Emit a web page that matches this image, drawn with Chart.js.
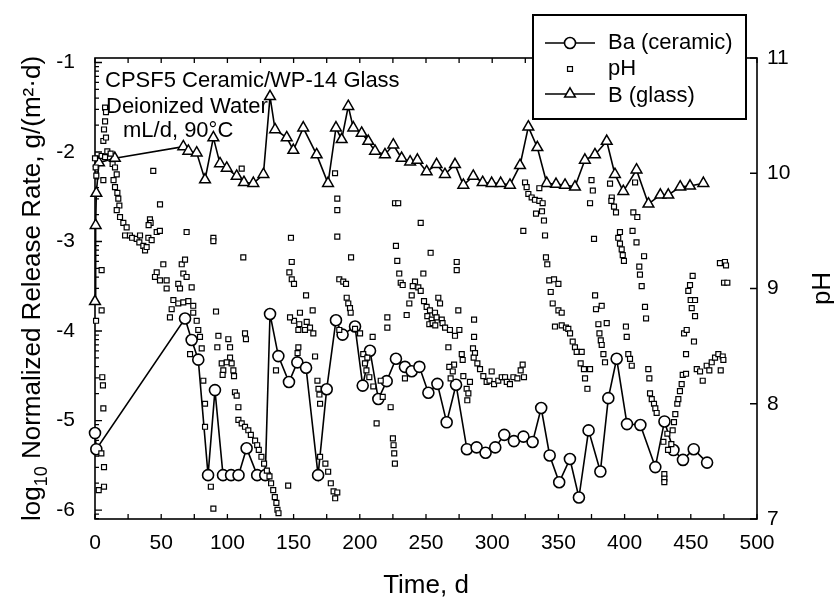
<!DOCTYPE html>
<html>
<head>
<meta charset="utf-8">
<script src="https://cdn.jsdelivr.net/npm/chart.js@4.4.1/dist/chart.umd.min.js"></script>
<style>
  html, body { margin: 0; padding: 0; background: #fff; }
  #wrap { width: 834px; height: 598px; position: relative; }
</style>
</head>
<body>
<div id="wrap"><canvas id="c" width="834" height="598"></canvas></div>
<script>
// Ba release from the ceramic (log10 g/(m2.d))
const baDays = [0, 1, 68, 73, 78, 85.4, 90.6, 96.7, 102.8, 108.4, 114.5, 122.5, 128.6, 132.2, 138.5, 146.5, 152.8, 159.4, 168.5, 175, 182, 187, 196.4, 202.2, 207.7, 214, 220.3, 227.3, 234.1, 239.2, 245, 251.8, 258.6, 265.6, 272.7, 280.9, 288.2, 295, 302.3, 309.1, 316.4, 323.6, 330.5, 337, 343.4, 350.6, 358.7, 365.5, 372.8, 381.7, 387.7, 394, 401.8, 411.9, 423.2, 430.1, 436.9, 444.1, 452.2, 462.3];
const baValues = [-5.14, -5.32, -3.86, -4.10, -4.32, -5.61, -4.66, -5.61, -5.61, -5.61, -5.31, -5.61, -5.61, -3.81, -4.28, -4.57, -4.35, -4.41, -5.61, -4.65, -3.88, -4.04, -3.95, -4.61, -4.22, -4.76, -4.56, -4.31, -4.40, -4.45, -4.40, -4.69, -4.59, -5.02, -4.60, -5.32, -5.30, -5.36, -5.30, -5.16, -5.23, -5.18, -5.24, -4.86, -5.39, -5.69, -5.43, -5.86, -5.11, -5.57, -4.75, -4.31, -5.04, -5.05, -5.52, -5.01, -5.33, -5.44, -5.32, -5.47];

// B release from the glass (log10 g/(m2.d))
const bDays = [0, 0.5, 1, 3, 15, 66.7, 70.5, 76.8, 83.1, 89.4, 94.4, 99.5, 107, 112.5, 119.6, 127.2, 132.2, 136, 144.8, 149.8, 157.3, 167.4, 176, 182, 186.3, 191.3, 195.1, 201.4, 206.4, 211.5, 219, 225.3, 231.6, 238, 243.5, 250.5, 258, 264.3, 271.9, 278.2, 285.7, 292.8, 299.6, 306.4, 313.4, 321, 327.3, 334.1, 341.2, 348.2, 355, 362.5, 370, 377.6, 386.5, 392.7, 399, 409, 418, 427, 433, 442, 449.4, 459.5];
const bValues = [-3.67, -2.82, -2.46, -2.12, -2.07, -1.94, -1.99, -2.01, -2.31, -1.84, -2.13, -2.18, -2.27, -2.34, -2.35, -2.25, -1.38, -1.75, -1.84, -1.98, -1.73, -2.03, -2.35, -1.73, -1.86, -1.49, -1.73, -1.79, -1.88, -1.99, -2.03, -1.92, -2.07, -2.11, -2.09, -2.22, -2.14, -2.25, -2.14, -2.37, -2.27, -2.34, -2.35, -2.35, -2.37, -2.15, -1.72, -1.95, -2.35, -2.36, -2.37, -2.39, -2.09, -2.03, -1.88, -2.25, -2.44, -2.20, -2.58, -2.48, -2.48, -2.39, -2.38, -2.35];

// Leachate pH readings
const phDays = [
  0, 0.5, 1, 0.8, 2.8, 4.8, 5, 5, 5, 5.5, 6, 6.3, 6.3, 6.3, 6.8, 6.8, 6.8, 7.6, 8.3, 7.6, 8.3, 9.3, 7.6, 11.8, 13.3, 15.1, 16.4, 14, 15.1, 16.9, 17.6, 18.4, 16.4, 18.9, 21.4, 23.9, 22.7, 26.4, 28, 31.5, 33.5, 34, 36.5, 37.8, 39, 40.3, 42.8, 46.6, 41.5, 42, 40.5, 49, 44, 49.1,
  51.6, 46.6, 45.3, 49.1, 54.1, 54.1, 65.5, 68, 66.7, 69.2, 62.9, 64.2, 73, 59.2, 57.9, 56.6, 62.9, 66.7, 70.5, 74.2, 74.2, 76.8, 78, 79.3, 80.6, 71.8, 81.8, 83.1, 83.1, 87.5, 89.4, 69.2, 89.4, 89.4, 91.4,
  93.2, 100.7, 92.4, 102, 113.3, 114, 102, 95.7, 99.5, 103.2, 96.9, 104.5, 96.4, 105, 105.7, 107, 108.3, 108.3, 110.8, 113.3, 115.8, 117.7, 120.9, 122.5, 123.7, 125.7, 127.7, 129.8, 131.8, 133, 134.6, 135.8, 137, 137.8, 138.6, 110.8, 112, 136.7, 145.9,
  148, 148.6, 146.8, 148.6, 150.3, 154.8, 150.3, 154.3, 159.9, 162.4, 153.6, 158.6, 164.9, 147.3, 164.4, 159.4, 153.6, 153, 166.2, 168, 168.8, 169.5, 170, 170, 174, 176.1, 178.1, 180.2, 181.4, 183, 181.3, 183, 183, 183, 184.5, 184.5,
  187.5, 189.6, 193.4, 190.1, 191.3, 192.6, 193.1, 196.4, 200.2, 202.6, 205.7, 203.9, 205, 207.2, 210.2, 215.8, 217.3, 209.7, 212.7, 220.8, 220.8, 223.3, 225, 225.5, 226, 226.5, 226.6, 229, 227.3, 228.3, 229.8, 230.9, 232.4, 234.1, 235.4, 237.4, 239.2, 241.7, 240, 244.2, 246, 246, 248, 253.5,
  248.5, 250.5, 253, 256.8, 259.3, 260.6, 251, 254.3, 258, 261.9, 252.5, 255, 257, 262.5, 264.4, 268.1, 271.9, 275.2, 273.2, 273.2, 274.4, 266.9, 277, 277.7, 271.2, 267.6, 270.2, 268.6, 278.2, 283.2, 280.7, 282, 281.2, 286.3, 286.3, 285.5, 287, 286,
  288.8, 290.8, 293.3, 295.8, 298, 299.6, 301.4, 304.6, 307.2, 309.7, 311, 313.4, 316, 319, 321.5, 323, 324, 323.5, 324.8, 326, 327.3, 329.8, 332.3, 335.6, 338.1, 333.1, 337.6, 339.1, 339.9, 335.6,
  340.6, 341.6, 343.1, 346.7, 350, 344.2, 345.7, 350, 352.5, 347.4, 352.5, 355.7, 357.5, 358.8, 360.8, 362.5, 363.8, 367.6, 366.8, 369.3, 373.9, 370.1, 371.9,
  373.9, 375, 376, 389, 390.3, 390, 392, 393.5, 406.6, 409.6, 407.9, 376.9, 396.5, 395.2, 396.5, 397.8, 398.6, 399.5, 406, 409, 414.7, 411.1, 411.6, 412.9, 415.4, 416.2, 377.7, 378.4, 382.7, 380.2, 386.5, 381, 382, 382.7, 384, 385.2, 401, 401.6, 402.8, 404.1, 405.4, 417.9, 418.7, 419.2, 420.5, 422.2, 423.2, 424.2,
  429.3, 432.3, 436.3, 437.3, 438.3, 439.8, 440.6, 441.8, 443.1, 443.9, 446.4, 446.4, 444.9, 446.9, 452.4, 450.7, 449.9, 453.2, 453.2, 448.1, 449.4, 451.4, 454.5, 457, 459, 462, 464, 465.8, 468.3, 470.8, 474.1, 472.6, 474.6, 472, 475.8, 476.6, 475.1, 477.6, 430, 430, 430, 435.3, 432.8
];
const phValues = [
  10.13, 10.05, 9.98, 8.72, 7.25, 7.57, 9.16, 8.81, 10.15, 8.23, 8.16, 7.96, 9.94, 10.28, 7.45, 7.28, 10.38, 10.57, 10.53, 10.45, 10.31, 10.19, 10.14, 10.17, 10.08, 10.05, 9.99, 9.94, 9.88, 9.83, 9.78, 9.72, 9.68, 9.62, 9.57, 9.53, 9.46, 9.46, 9.44, 9.43, 9.40, 9.46, 9.37, 9.33, 9.36, 9.44, 9.42, 9.49, 9.60, 9.57, 9.55, 9.50, 10.02, 9.73,
  9.21, 9.14, 9.10, 9.07, 9.07, 9.00, 9.21, 9.25, 9.13, 9.10, 9.04, 9.00, 9.01, 8.90, 8.82, 8.75, 8.87, 8.88, 8.89, 8.85, 8.79, 8.72, 8.64, 8.58, 8.48, 8.43, 8.20, 8.00, 7.80, 7.28, 7.09, 9.49, 9.44, 9.41, 8.80,
  8.59, 8.56, 8.49, 8.49, 8.61, 8.56, 8.40, 8.35, 8.36, 8.35, 8.29, 8.29, 8.25, 8.24, 8.10, 8.07, 7.97, 7.86, 7.83, 7.80, 7.77, 7.73, 7.68, 7.64, 7.60, 7.54, 7.48, 7.42, 7.37, 7.31, 7.25, 7.19, 7.14, 7.08, 7.05, 10.04, 9.27, 8.29, 7.29,
  9.44, 9.23, 9.14, 9.08, 9.04, 8.79, 8.72, 8.69, 8.71, 8.66, 8.64, 8.64, 8.61, 8.75, 8.81, 8.94, 8.49, 8.44, 8.41, 8.20, 8.13, 8.08, 8.00, 7.54, 7.48, 7.41, 7.31, 7.24, 7.18, 7.23, 10.00, 9.78, 9.68, 9.45, 9.08, 8.64,
  9.06, 9.04, 9.27, 8.92, 8.87, 8.83, 8.79, 8.65, 8.61, 8.43, 8.40, 8.35, 8.29, 8.23, 8.15, 8.20, 8.06, 8.58, 7.83, 8.75, 8.66, 7.97, 7.70, 7.64, 7.57, 7.48, 9.74, 9.74, 9.37, 9.24, 9.13, 9.05, 9.03, 8.22, 8.77, 8.87, 8.94, 9.06, 9.02, 9.01, 8.98, 9.57, 9.13, 9.31,
  8.89, 8.84, 8.81, 8.79, 8.92, 8.87, 8.76, 8.73, 8.75, 8.73, 8.69, 8.70, 8.68, 8.70, 8.66, 8.64, 8.59, 8.64, 9.23, 9.16, 8.81, 8.49, 8.43, 8.38, 8.34, 8.32, 8.28, 8.22, 8.24, 8.19, 8.13, 8.09, 8.03, 8.73, 8.58, 8.48, 8.44, 8.40,
  8.35, 8.30, 8.24, 8.19, 8.20, 8.28, 8.17, 8.20, 8.23, 8.23, 8.19, 8.17, 8.23, 8.22, 8.29, 8.34, 8.23, 9.50, 9.92, 9.88, 9.82, 9.79, 9.77, 9.76, 9.74, 9.65, 9.67, 9.59, 9.46, 9.87,
  9.27, 9.21, 9.07, 9.08, 9.04, 8.97, 8.87, 8.81, 8.79, 8.67, 8.68, 8.66, 8.65, 8.61, 8.54, 8.49, 8.45, 8.45, 8.35, 8.30, 8.30, 8.22, 8.13,
  9.74, 9.94, 9.85, 9.91, 9.79, 9.76, 9.71, 9.66, 9.66, 9.62, 9.92, 9.43, 9.49, 9.44, 9.39, 9.34, 9.29, 9.24, 9.50, 9.40, 9.28, 9.19, 9.12, 9.02, 8.84, 8.74, 8.94, 8.82, 8.85, 8.69, 8.70, 8.61, 8.55, 8.51, 8.43, 8.36, 8.67, 8.58, 8.43, 8.39, 8.33, 8.30, 8.22, 8.09, 8.04, 8.00, 7.96, 7.92,
  7.67, 7.74, 7.77, 7.84, 7.91, 8.00, 8.04, 8.11, 8.17, 8.25, 8.26, 8.43, 8.61, 8.64, 8.54, 8.83, 8.90, 8.90, 8.76, 8.98, 9.03, 9.11, 8.30, 8.28, 8.20, 8.33, 8.29, 8.36, 8.40, 8.43, 8.41, 8.29, 8.38, 9.22, 9.23, 9.20, 9.05, 9.05, 7.39, 7.35, 7.32, 7.65, 7.60
];

// Axis ticks
const timeTicks = [0, 50, 100, 150, 200, 250, 300, 350, 400, 450, 500];
const rateTicks = [-6, -5, -4, -3, -2, -1];
const phTicks = [7, 8, 9, 10, 11];

const FONT = '"Liberation Sans", Arial, Helvetica, sans-serif';
const INK = '#000';

const pairs = (xs, ys) => xs.map((x, i) => ({ x: x, y: ys[i] }));

// Inward tick marks, box frame and text labels
const framePlugin = {
  id: 'frame',
  beforeDatasetsDraw(chart) {
    const ctx = chart.ctx;
    const a = chart.chartArea;
    const x = chart.scales.x, y = chart.scales.y, y2 = chart.scales.y2;
    ctx.save();
    ctx.strokeStyle = INK;
    ctx.lineWidth = 1.6;
    ctx.strokeRect(a.left, a.top, a.right - a.left, a.bottom - a.top);

    ctx.lineWidth = 1.3;
    ctx.beginPath();
    for (let t = 0; t <= 500; t += 25) {
      const px = x.getPixelForValue(t);
      ctx.moveTo(px, a.bottom); ctx.lineTo(px, a.bottom - 5);
      ctx.moveTo(px, a.top); ctx.lineTo(px, a.top + 5);
    }
    rateTicks.forEach(v => {
      const py = y.getPixelForValue(v);
      ctx.moveTo(a.left, py); ctx.lineTo(a.left + 7, py);
    });
    for (let d = -7; d <= -1; d++) {
      for (let k = 2; k <= 9; k++) {
        const v = d + Math.log10(k);
        if (v < y.min || v > y.max) continue;
        const py = y.getPixelForValue(v);
        ctx.moveTo(a.left, py); ctx.lineTo(a.left + 4, py);
      }
    }
    phTicks.forEach(v => {
      const py = y2.getPixelForValue(v);
      ctx.moveTo(a.right, py); ctx.lineTo(a.right - 7, py);
    });
    ctx.stroke();

    // sample description
    ctx.fillStyle = INK;
    ctx.font = '22px ' + FONT;
    ctx.textBaseline = 'alphabetic';
    ctx.textAlign = 'left';
    ctx.fillText('CPSF5 Ceramic/WP-14 Glass', a.left + 10, 87);
    ctx.fillText('Deionized Water', a.left + 11, 113);
    ctx.fillText('mL/d, 90\u00B0C', a.left + 28, 137);
    ctx.restore();
  },
  afterDraw(chart) {
    const ctx = chart.ctx;
    const a = chart.chartArea;
    ctx.save();
    ctx.fillStyle = INK;

    // left axis title with subscript
    ctx.save();
    ctx.translate(40, (a.top + a.bottom) / 2);
    ctx.rotate(-Math.PI / 2);
    const parts = [
      { s: 'log', f: '26px ' + FONT, dy: 0 },
      { s: '10', f: '18px ' + FONT, dy: 7 },
      { s: ' Normalized Release Rate, g/(m\u00B2\u00B7d)', f: '26px ' + FONT, dy: 0 }
    ];
    let total = 0;
    parts.forEach(p => { ctx.font = p.f; p.w = ctx.measureText(p.s).width; total += p.w; });
    let cx = -total / 2;
    ctx.textBaseline = 'alphabetic';
    ctx.textAlign = 'left';
    parts.forEach(p => { ctx.font = p.f; ctx.fillText(p.s, cx, p.dy); cx += p.w; });
    ctx.restore();

    // right axis title
    ctx.save();
    ctx.translate(830, (a.top + a.bottom) / 2);
    ctx.rotate(-Math.PI / 2);
    ctx.font = '26px ' + FONT;
    ctx.textAlign = 'center';
    ctx.textBaseline = 'alphabetic';
    ctx.fillText('pH', 0, 0);
    ctx.restore();

    // bottom axis title
    ctx.font = '26px ' + FONT;
    ctx.textAlign = 'center';
    ctx.textBaseline = 'alphabetic';
    ctx.fillText('Time, d', (a.left + a.right) / 2, 593);

    // legend box
    const lx = 533, ly = 15, lw = 213, lh = 104;
    ctx.fillStyle = '#fff';
    ctx.fillRect(lx, ly, lw, lh);
    ctx.strokeStyle = INK;
    ctx.lineWidth = 2;
    ctx.strokeRect(lx, ly, lw, lh);
    const rows = [
      { label: 'Ba (ceramic)', ds: chart.data.datasets[1], cy: 43, base: 49 },
      { label: 'pH', ds: chart.data.datasets[0], cy: 69, base: 75 },
      { label: 'B (glass)', ds: chart.data.datasets[2], cy: 94, base: 102 }
    ];
    rows.forEach(r => {
      if (r.ds.showLine !== false) {
        ctx.strokeStyle = INK;
        ctx.lineWidth = r.ds.borderWidth;
        ctx.beginPath();
        ctx.moveTo(545, r.cy); ctx.lineTo(595, r.cy);
        ctx.stroke();
      }
      ctx.fillStyle = '#fff';
      ctx.strokeStyle = INK;
      ctx.lineWidth = r.ds.pointBorderWidth;
      Chart.helpers.drawPoint(ctx, {
        pointStyle: r.ds.pointStyle,
        radius: r.ds.pointRadius,
        borderWidth: r.ds.pointBorderWidth,
        rotation: 0
      }, 570, r.cy);
      ctx.fillStyle = INK;
      ctx.font = '22px ' + FONT;
      ctx.textAlign = 'left';
      ctx.textBaseline = 'alphabetic';
      ctx.fillText(r.label, 608, r.base);
    });
    ctx.restore();
  }
};

const tickFont = { family: FONT, size: 21 };

new Chart(document.getElementById('c'), {
  type: 'line',
  data: {
    datasets: [
      {
        label: 'pH',
        data: pairs(phDays, phValues),
        yAxisID: 'y2',
        showLine: false,
        pointStyle: 'rect',
        pointRadius: 3.5,
        pointBorderWidth: 1.2,
        pointBackgroundColor: '#fff',
        pointBorderColor: INK,
        borderColor: INK,
        borderWidth: 0,
        clip: false
      },
      {
        label: 'Ba (ceramic)',
        data: pairs(baDays, baValues),
        yAxisID: 'y',
        borderColor: INK,
        borderWidth: 1.6,
        pointStyle: 'circle',
        pointRadius: 5.5,
        pointBorderWidth: 1.6,
        pointBackgroundColor: '#fff',
        pointBorderColor: INK,
        tension: 0,
        clip: false
      },
      {
        label: 'B (glass)',
        data: pairs(bDays, bValues),
        yAxisID: 'y',
        borderColor: INK,
        borderWidth: 1.6,
        pointStyle: 'triangle',
        pointRadius: 6.2,
        pointBorderWidth: 1.5,
        pointBackgroundColor: '#fff',
        pointBorderColor: INK,
        tension: 0,
        clip: false
      }
    ]
  },
  options: {
    responsive: false,
    animation: false,
    devicePixelRatio: 1,
    layout: { padding: { top: 58, left: 0, right: 0, bottom: 0 } },
    plugins: { legend: { display: false }, tooltip: { enabled: false } },
    elements: { point: { hoverRadius: 5.5 } },
    scales: {
      x: {
        type: 'linear', position: 'bottom', min: 0, max: 500,
        afterFit: s => { s.height = 79; },
        afterBuildTicks: s => { s.ticks = timeTicks.map(v => ({ value: v })); },
        ticks: { font: tickFont, color: INK, padding: 12, maxRotation: 0, callback: v => String(v) },
        grid: { display: false, drawTicks: false },
        border: { display: false }
      },
      y: {
        type: 'linear', position: 'left', min: -6.10, max: -0.95,
        afterFit: s => { s.width = 95; },
        afterBuildTicks: s => { s.ticks = rateTicks.map(v => ({ value: v })); },
        ticks: { font: tickFont, color: INK, padding: 20, callback: v => String(v) },
        grid: { display: false, drawTicks: false },
        border: { display: false }
      },
      y2: {
        type: 'linear', position: 'right', min: 7, max: 11,
        afterFit: s => { s.width = 77; },
        afterBuildTicks: s => { s.ticks = phTicks.map(v => ({ value: v })); },
        ticks: { font: tickFont, color: INK, padding: 10, callback: v => String(v) },
        grid: { display: false, drawTicks: false },
        border: { display: false }
      }
    }
  },
  plugins: [framePlugin]
});
</script>
</body>
</html>
